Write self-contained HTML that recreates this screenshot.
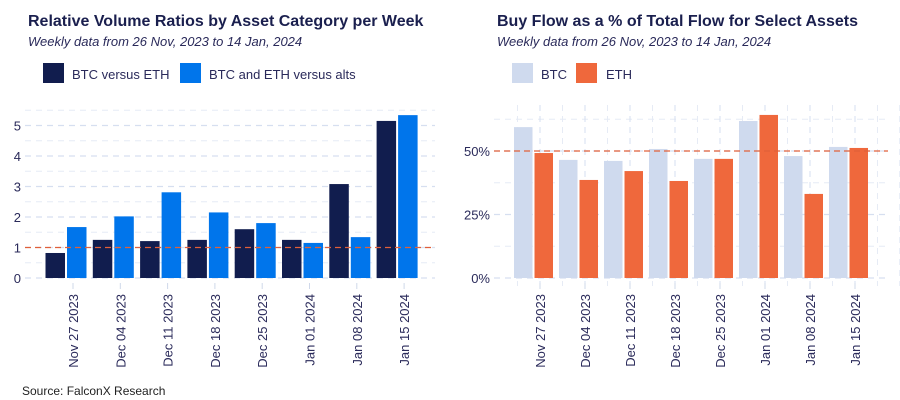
<!DOCTYPE html>
<html><head><meta charset="utf-8"><style>
body{margin:0;background:#fff;width:900px;height:400px;overflow:hidden}
svg{display:block;font-family:"Liberation Sans",sans-serif}
</style></head><body>
<svg id="c" width="900" height="400" viewBox="0 0 900 400">
<text x="28" y="26" font-size="16" font-weight="bold" fill="#1a1f4e">Relative Volume Ratios by Asset Category per Week</text>
<text x="28" y="46" font-size="13" font-style="italic" fill="#2a2a5a">Weekly data from 26 Nov, 2023 to 14 Jan, 2024</text>
<rect x="43" y="63" width="21" height="20" fill="#111d4e"/>
<text x="72" y="79" font-size="13" fill="#2a2a5a">BTC versus ETH</text>
<rect x="180" y="63" width="21" height="20" fill="#0075eb"/>
<text x="209" y="79" font-size="13" fill="#2a2a5a">BTC and ETH versus alts</text>
<text x="497" y="26" font-size="16" font-weight="bold" fill="#1a1f4e">Buy Flow as a % of Total Flow for Select Assets</text>
<text x="497" y="46" font-size="13" font-style="italic" fill="#2a2a5a">Weekly data from 26 Nov, 2023 to 14 Jan, 2024</text>
<rect x="512" y="63" width="21" height="20" fill="#cfdaee"/>
<text x="541" y="79" font-size="13" fill="#2a2a5a">BTC</text>
<rect x="576" y="63" width="21" height="20" fill="#ef683c"/>
<text x="606" y="79" font-size="13" fill="#2a2a5a">ETH</text>
<text x="22" y="395" font-size="12" fill="#222">Source: FalconX Research</text>
<g id="L"></g><g id="R"></g>
</svg>
<script>
const categories=["Nov 27 2023","Dec 04 2023","Dec 11 2023","Dec 18 2023","Dec 25 2023","Jan 01 2024","Jan 08 2024","Jan 15 2024"];
const btcVsEth=[0.82,1.25,1.21,1.25,1.6,1.25,3.08,5.15];
const btcEthVsAlts=[1.67,2.02,2.81,2.15,1.8,1.15,1.34,5.34];
const leftTicks=[0,1,2,3,4,5];
const btcBuy=[59.4,46.5,46.1,50.8,46.9,61.8,48,51.6];
const ethBuy=[49.2,38.6,42.1,38.2,46.9,64.2,33.1,51.2];
const rightTicks=[0,25,50];
const rightTickLabels=["0%","25%","50%"];
const NS="http://www.w3.org/2000/svg";
function mk(p,t,a){const e=document.createElementNS(NS,t);for(const k in a)e.setAttribute(k,a[k]);p.appendChild(e);return e;}
function chart(g,cfg){
  const yS=v=>cfg.y0-(v-cfg.vmin)*cfg.pxPer;
  const xS=i=>cfg.x0+i*cfg.step;
  for(let v=cfg.vmin;v<=cfg.vmax+1e-9;v+=cfg.minor){
    const major=cfg.ticks.some(t=>Math.abs(t-v)<1e-9);
    const l=mk(g,'line',{x1:cfg.gx0,x2:cfg.gx1,y1:yS(v),y2:yS(v),stroke:major?'#d6dff0':'#e6ebf5','stroke-width':major?1.3:1,'stroke-dasharray':'6,5'});
    
    
  }
  if(cfg.vgrid){
    for(let i=-0.5;i<categories.length+0.5;i+=0.5){
      const l=mk(g,'line',{x1:xS(i),x2:xS(i),y1:cfg.gtop,y2:cfg.y0+8,stroke:Number.isInteger(i)?'#d6dff0':'#e6ebf5','stroke-width':1,'stroke-dasharray':'6,5'});
      
      
    }
  }
  cfg.ticks.forEach((t,k)=>{
    const tx=mk(g,'text',{x:cfg.gx0-4,y:yS(t)+5,'text-anchor':'end','font-size':13,fill:'#2a2a5a'});
    tx.textContent=cfg.tickLabels[k];
    
    
  });
  categories.forEach((c,i)=>{
    const x=xS(i);
    const a=mk(g,'rect',{x:x-cfg.bw-cfg.gap/2-cfg.off,y:yS(cfg.s1[i]),width:cfg.bw,height:cfg.y0-yS(cfg.s1[i]),fill:cfg.c1});
    
    
    const b=mk(g,'rect',{x:x+cfg.gap/2-cfg.off,y:yS(cfg.s2[i]),width:cfg.bw,height:cfg.y0-yS(cfg.s2[i]),fill:cfg.c2});
    
    
    const tk=mk(g,'line',{x1:x,x2:x,y1:cfg.y0+5,y2:cfg.y0+11,stroke:'#cfd8ea','stroke-width':1});
    
    
    const t=mk(g,'text',{x:0,y:0,'text-anchor':'end','font-size':13,fill:'#2a2a5a',transform:`translate(${x+5},294) rotate(-90)`});
    t.textContent=c;
    
    
  });
  const r=mk(g,'line',{x1:cfg.gx0,x2:cfg.gx1,y1:yS(cfg.ref),y2:yS(cfg.ref),stroke:'#e0603a','stroke-width':1.3,'stroke-dasharray':'6,4'});
  
  
}
chart(document.getElementById('L'),{vmin:0,vmax:5.5,minor:0.5,ticks:leftTicks,tickLabels:leftTicks.map(String),y0:278,pxPer:30.5,x0:73,step:47.3,gx0:25,gx1:435,gtop:105,bw:19.5,gap:2,off:7,s1:btcVsEth,s2:btcEthVsAlts,c1:'#111d4e',c2:'#0075eb',n1:'btc-vs-eth',n2:'btc-eth-vs-alts',ref:1,vgrid:false});
chart(document.getElementById('R'),{vmin:0,vmax:62.5,minor:12.5,ticks:rightTicks,tickLabels:rightTickLabels,y0:278,pxPer:2.54,x0:540,step:45,gx0:494,gx1:888,gtop:105,bw:18.5,gap:2,off:6.5,s1:btcBuy,s2:ethBuy,c1:'#cfdaee',c2:'#ef683c',n1:'btc',n2:'eth',ref:50,vgrid:true});
</script>
</body></html>
